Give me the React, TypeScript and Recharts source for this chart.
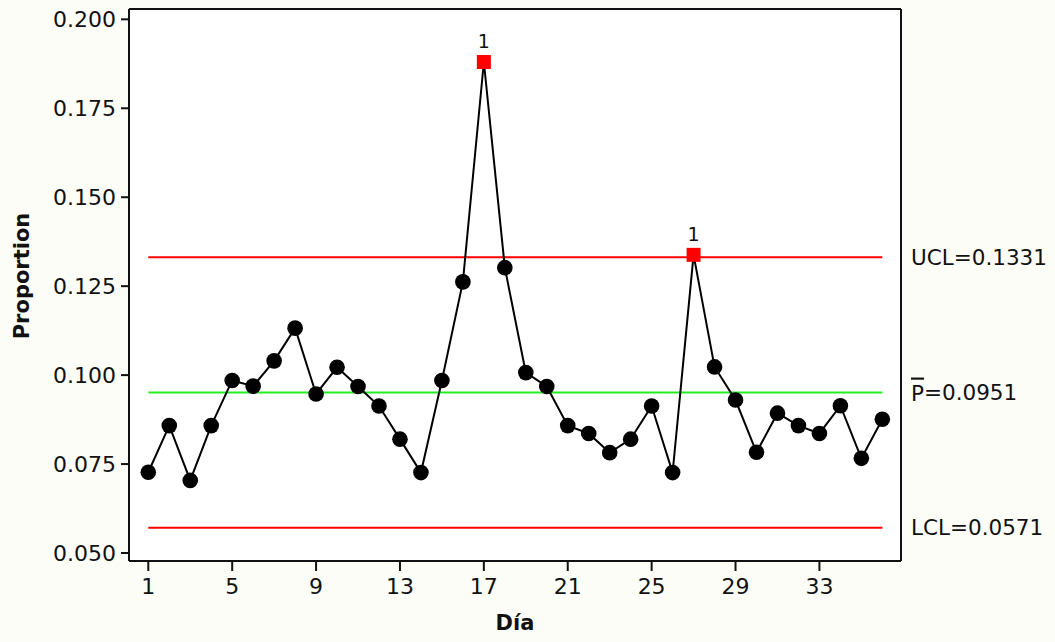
import React from 'react';
import { LineChart, Line, XAxis, YAxis, CartesianGrid, ReferenceLine } from 'recharts';

const days = [
  1, 2, 3, 4, 5, 6, 7, 8, 9, 10, 11, 12, 13, 14, 15, 16, 17, 18,
  19, 20, 21, 22, 23, 24, 25, 26, 27, 28, 29, 30, 31, 32, 33, 34, 35, 36,
];
const proportions = [
  0.0727, 0.0858, 0.0704, 0.0858, 0.0985, 0.0969, 0.104, 0.1132, 0.0947,
  0.1022, 0.0968, 0.0913, 0.082, 0.0726, 0.0985, 0.1262, 0.188, 0.1302,
  0.1007, 0.0968, 0.0858, 0.0836, 0.0782, 0.082, 0.0913, 0.0726, 0.1338,
  0.1023, 0.093, 0.0783, 0.0893, 0.0858, 0.0836, 0.0914, 0.0766, 0.0876,
];
const UCL = 0.1331;
const CL = 0.0951;
const LCL = 0.0571;
const xTicks = [1, 5, 9, 13, 17, 21, 25, 29, 33];
const yTicks = [0.05, 0.075, 0.1, 0.125, 0.15, 0.175, 0.2];

const FONT = "'DejaVu Sans', Verdana, sans-serif";
const INK = '#111';

const data = days.map((d, i) => ({ day: d, p: proportions[i], ucl: UCL, cl: CL, lcl: LCL }));

const PointDot = (props: any) => {
  const { cx, cy, value, index } = props;
  if (cx == null || cy == null) return <g key={`d-${index}`} />;
  if (value > UCL || value < LCL) {
    return (
      <g key={`d-${index}`}>
        <rect x={cx - 7} y={cy - 7} width={14} height={14} fill="#ff0000" />
        <text x={cx} y={cy - 21} textAnchor="middle" dominantBaseline="central" fontSize={19} fontFamily={FONT} fill={INK}>
          1
        </text>
      </g>
    );
  }
  return <circle key={`d-${index}`} cx={cx} cy={cy} r={7.8} fill="#000" />;
};

const limitLabel = (name: React.ReactNode, val: number) => (props: any) => {
  const { viewBox } = props;
  return (
    <text
      x={viewBox.x + viewBox.width + 10}
      y={viewBox.y}
      dominantBaseline="central"
      fontSize={21.5}
      fontFamily={FONT}
      fill={INK}
    >
      {name}={val.toFixed(4)}
    </text>
  );
};

const YLabel = (props: any) => {
  const { viewBox } = props;
  const x = viewBox.x + 22;
  const y = viewBox.y + viewBox.height / 2 - 9;
  return (
    <text x={x} y={y} transform={`rotate(-90 ${x} ${y})`} textAnchor="middle" dominantBaseline="central"
      fontSize={21} fontWeight="bold" fontFamily={FONT} fill={INK}>
      Proportion
    </text>
  );
};

const XLabel = (props: any) => {
  const { viewBox } = props;
  return (
    <text x={viewBox.x + viewBox.width / 2} y={viewBox.y + 62} textAnchor="middle" dominantBaseline="central"
      fontSize={21} fontWeight="bold" fontFamily={FONT} fill={INK}>
      Día
    </text>
  );
};

export default function App() {
  const xDomain = [0.08, 36.89];
  const yDomain = [0.04775, 0.2029];
  const tickStyle = { fontSize: 22, fontFamily: FONT, fill: INK };
  const axisLine = { stroke: INK, strokeWidth: 2 };

  return (
    <div style={{ position: 'absolute', left: 0, top: 0, width: 1055, height: 642, background: '#fdfdf7' }}>
      <LineChart width={1055} height={642} data={data} margin={{ top: 9, right: 154, bottom: 0, left: 0 }}>
        {/* white plot area with a full frame */}
        <CartesianGrid
          fill="#ffffff"
          stroke={INK}
          strokeWidth={2}
          horizontalCoordinatesGenerator={({ offset }: any) => [offset.top, offset.top + offset.height]}
          verticalCoordinatesGenerator={({ offset }: any) => [offset.left, offset.left + offset.width]}
        />
        <XAxis
          dataKey="day"
          type="number"
          domain={xDomain}
          allowDataOverflow
          ticks={xTicks}
          height={81}
          tick={tickStyle}
          tickSize={10}
          tickMargin={7}
          tickLine={{ stroke: INK, strokeWidth: 2 }}
          axisLine={axisLine}
          label={<XLabel />}
        />
        <YAxis
          type="number"
          domain={yDomain}
          allowDataOverflow
          ticks={yTicks}
          width={129}
          tick={tickStyle}
          tickFormatter={(v: number) => v.toFixed(3)}
          tickSize={8}
          tickMargin={5}
          tickLine={{ stroke: INK, strokeWidth: 2 }}
          axisLine={axisLine}
          label={<YLabel />}
        />
        <Line dataKey="ucl" stroke="#ff0000" strokeWidth={2} dot={false} activeDot={false} isAnimationActive={false} />
        <Line dataKey="lcl" stroke="#ff0000" strokeWidth={2} dot={false} activeDot={false} isAnimationActive={false} />
        <Line dataKey="cl" stroke="#22ee22" strokeWidth={2} dot={false} activeDot={false} isAnimationActive={false} />
        <Line
          dataKey="p"
          stroke="#000"
          strokeWidth={2}
          dot={PointDot}
          activeDot={false}
          isAnimationActive={false}
        />
        <ReferenceLine y={UCL} stroke="none" label={limitLabel('UCL', UCL)} />
        <ReferenceLine
          y={CL}
          stroke="none"
          label={limitLabel(<tspan textDecoration="overline">P</tspan>, CL)}
        />
        <ReferenceLine y={LCL} stroke="none" label={limitLabel('LCL', LCL)} />
      </LineChart>
    </div>
  );
}
